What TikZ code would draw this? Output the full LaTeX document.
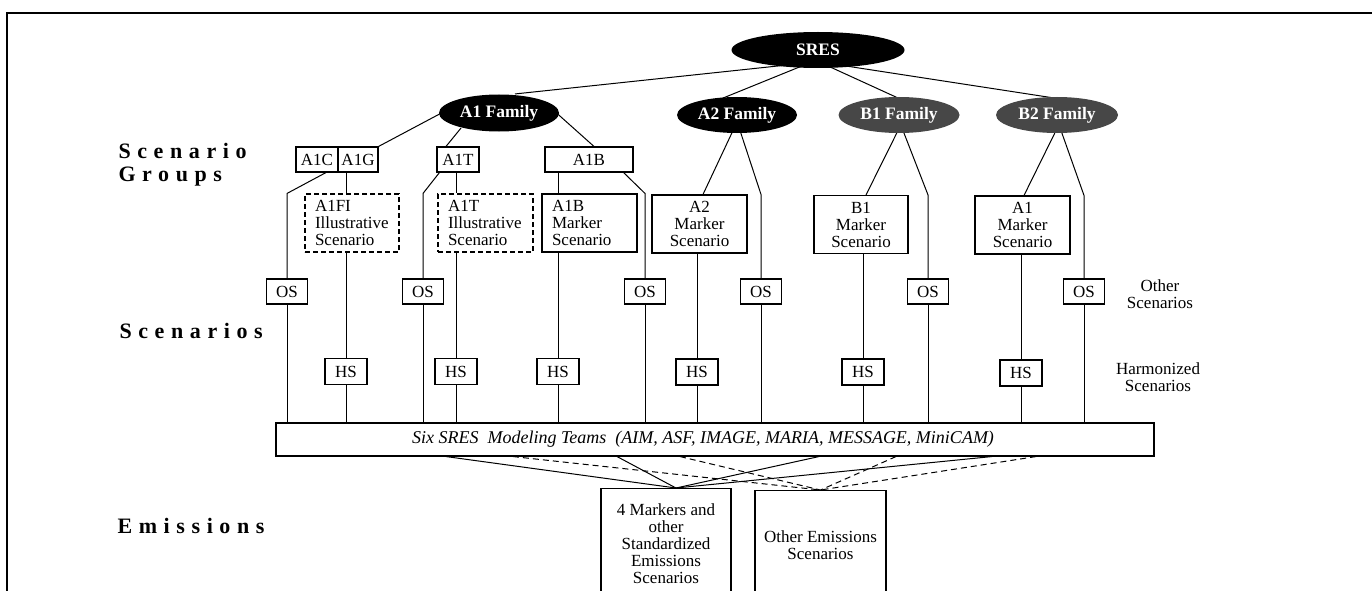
\documentclass[tikz,border=0pt]{standalone}
\usepackage{fontspec}
\setmainfont{Liberation Serif}
\newfontfamily\spacedfont[LetterSpace=30]{Liberation Serif}
\usetikzlibrary{shapes.geometric,backgrounds,calc}
\newcommand\boxfont{\fontsize{17}{17}\selectfont}
\begin{document}
\begin{tikzpicture}[x=1pt,y=-1pt,line width=1.1pt,
  fam/.style={ellipse, fill=black, draw=none, inner sep=0pt, minimum width=120pt, minimum height=37pt, text=white, font=\fontsize{17.5}{18}\selectfont\bfseries},
  fam2/.style={fam, fill=black!72},
  box/.style={draw, rectangle, inner sep=0pt, font=\boxfont},
  grp/.style={box, minimum height=25pt},
  os/.style={box, minimum width=41pt, minimum height=25pt},
  hs/.style={box, minimum width=42pt, minimum height=26pt},
  mkl/.style={box, inner xsep=10pt, text width=75pt, minimum height=58pt, align=left},
  mkc/.style={box, text width=95pt, minimum height=58pt, align=center},
  dashbox/.style={dash pattern=on 5pt off 3pt},
  lab/.style={inner sep=0pt, anchor=base west, font=\spacedfont\bfseries\fontsize{22}{24}\selectfont},
  side/.style={inner sep=0pt, align=center, font=\boxfont},
  conn/.style={line width=1pt},
  emconn/.style={line width=1pt},
  emdash/.style={line width=1pt, dash pattern=on 6pt off 4pt}
]
\useasboundingbox (0,0) rectangle (1372,591);
\clip (0,0) rectangle (1372,591);
\draw[line width=1.6pt] (7,591) -- (7,13) -- (1372,13);

% row labels
\node[lab] (lsg1) at (118,158) {Scenario};
\node[lab] (lsg2) at (118,181) {Groups};
\node[lab] (lsc) at (119,338) {Scenarios};
\node[lab] (lem) at (117,533) {Emissions};

% families
\node[fam, minimum width=173pt, minimum height=36pt] (SRES) at (818,50) {SRES};
\node[fam] (A1F) at (499,113) {A1 Family};
\node[fam, minimum height=36pt] (A2F) at (737,115) {A2 Family};
\node[fam2, minimum width=121pt, minimum height=36pt] (B1F) at (899,115) {B1 Family};
\node[fam2, minimum width=122pt, minimum height=36pt] (B2F) at (1057,115) {B2 Family};

% scenario groups
\node[grp, minimum width=42pt] (A1C) at (317,159.5) {A1C};
\node[grp, minimum width=40pt] (A1G) at (358,159.5) {A1G};
\node[grp, minimum width=42pt] (A1T) at (458,159.5) {A1T};
\node[grp, minimum width=88pt] (A1B) at (589,159.5) {A1B};

% marker / illustrative scenarios
\node[mkl, dashbox, text width=74pt] (A1FI) at (352,223) {A1FI\\Illustrative\\Scenario};
\node[mkl, dashbox] (A1TI) at (485.5,223) {A1T\\Illustrative\\Scenario};
\node[mkl] (A1BM) at (589.5,223) {A1B\\Marker\\Scenario};
\node[mkc] (A2M) at (699.5,224) {A2\\Marker\\Scenario};
\node[mkc, text width=94pt] (B1M) at (861,224.5) {B1\\Marker\\Scenario};
\node[mkc] (B2M) at (1022.5,225) {A1\\Marker\\Scenario};

% other scenarios
\node[os] (OS1) at (287,291.5) {OS};
\node[os] (OS2) at (423,291.5) {OS};
\node[os] (OS3) at (645,291.5) {OS};
\node[os] (OS4) at (761,291.5) {OS};
\node[os] (OS5) at (928,291.5) {OS};
\node[os] (OS6) at (1084,291.5) {OS};

% harmonized scenarios
\node[hs] (HS1) at (346,371.5) {HS};
\node[hs] (HS2) at (456,371.5) {HS};
\node[hs] (HS3) at (558,371.5) {HS};
\node[hs] (HS4) at (697,372) {HS};
\node[hs] (HS5) at (863,372) {HS};
\node[hs] (HS6) at (1021,373) {HS};

% side labels
\node[side] (lOS) at (1160,294) {Other\\Scenarios};
\node[side] (lHS) at (1158,377) {Harmonized\\Scenarios};

% modeling teams
\node[box, minimum width=878pt, minimum height=33pt, font=\fontsize{18}{20}\selectfont\itshape] (TM) at (715,439.5)
  {Six SRES\ \ Modeling Teams\ \ (AIM, ASF, IMAGE, MARIA, MESSAGE, MiniCAM)\hspace*{24pt}};

% emissions
\node[box, anchor=north, minimum width=130pt, minimum height=110pt, align=center] (EM1) at (666,488)
  {4 Markers and\\other\\Standardized\\Emissions\\Scenarios};
\node[box, anchor=north, minimum width=131pt, minimum height=110pt, align=center] (EM2) at (820.5,490)
  {Other Emissions\\Scenarios};

\begin{scope}[on background layer]
  % SRES to families
  \draw[conn] ([xshift=-36pt,yshift=3pt]SRES.south) -- ([xshift=16pt]A1F.north);
  \draw[conn] ([xshift=-15pt,yshift=3pt]SRES.south) -- ([xshift=-15pt,yshift=-2pt]A2F.north);
  \draw[conn] ([xshift=9pt,yshift=3pt]SRES.south) -- ([yshift=-2pt]B1F.north);
  \draw[conn] ([xshift=25pt,yshift=3pt]SRES.south) -- ([yshift=-2pt]B2F.north);

  % A1 family
  \draw[conn] ([xshift=3pt]A1F.west) -- (A1G.north east);
  \draw[conn] ([xshift=-38pt,yshift=4pt]A1F.south) -- ([xshift=-12pt]A1T.north);
  \draw[conn] ([xshift=-3pt]A1F.east) -- ([xshift=5pt]A1B.north);

  \draw[conn] ([xshift=9pt]A1C.south) -- (OS1.north |- A1FI.north) -- (OS1.north);
  \draw[conn] ([xshift=-12pt]A1G.south) -- (HS1.north |- A1FI.north);
  \draw[conn] (HS1.north |- A1FI.south) -- (HS1.north);

  \draw[conn] ([xshift=3pt]A1T.south west) -- (OS2.north |- A1FI.north) -- (OS2.north);
  \draw[conn] ([xshift=-2pt]A1T.south) -- (HS2.north |- A1TI.north);
  \draw[conn] (HS2.north |- A1TI.south) -- (HS2.north);

  \draw[conn] ([xshift=-31pt]A1B.south) -- (HS3.north |- A1BM.north);
  \draw[conn] (HS3.north |- A1BM.south) -- (HS3.north);
  \draw[conn] ([xshift=-10pt]A1B.south east) -- (OS3.north |- A1BM.north) -- (OS3.north);

  % A2 family
  \draw[conn] ([xshift=-4pt,yshift=3pt]A2F.south) -- ([xshift=3.5pt]A2M.north);
  \draw[conn] ([xshift=3pt,yshift=3pt]A2F.south) -- (OS4.north |- A2M.north) -- (OS4.north);
  \draw[conn] (HS4.north |- A2M.south) -- (HS4.north);

  % B1 family
  \draw[conn] ([xshift=-1pt,yshift=3pt]B1F.south) -- ([xshift=5pt]B1M.north);
  \draw[conn] ([xshift=4pt,yshift=3pt]B1F.south) -- (OS5.north |- B1M.north) -- (OS5.north);
  \draw[conn] (HS5.north |- B1M.south) -- (HS5.north);

  % B2 family
  \draw[conn] ([xshift=-1pt,yshift=3pt]B2F.south) -- ([xshift=1.5pt]B2M.north);
  \draw[conn] ([xshift=4pt,yshift=3pt]B2F.south) -- (OS6.north |- B2M.north) -- (OS6.north);
  \draw[conn] (HS6.north |- B2M.south) -- (HS6.north);

  % down to modeling teams
  \foreach \n in {OS1,OS2,OS3,OS4,OS5,OS6,HS1,HS2,HS3,HS4,HS5,HS6}
    \draw[conn] (\n.south) -- (\n.south |- TM.north);

  % teams to emissions
  \foreach \s in {-269,-98,104,277}
    \draw[emconn] ([xshift=\s pt]TM.south) -- ([xshift=10pt]EM1.north);
  \foreach \s in {-202,-35,181,321}
    \draw[emdash] ([xshift=\s pt]TM.south) -- (EM2.north);
\end{scope}
\end{tikzpicture}
\end{document}
